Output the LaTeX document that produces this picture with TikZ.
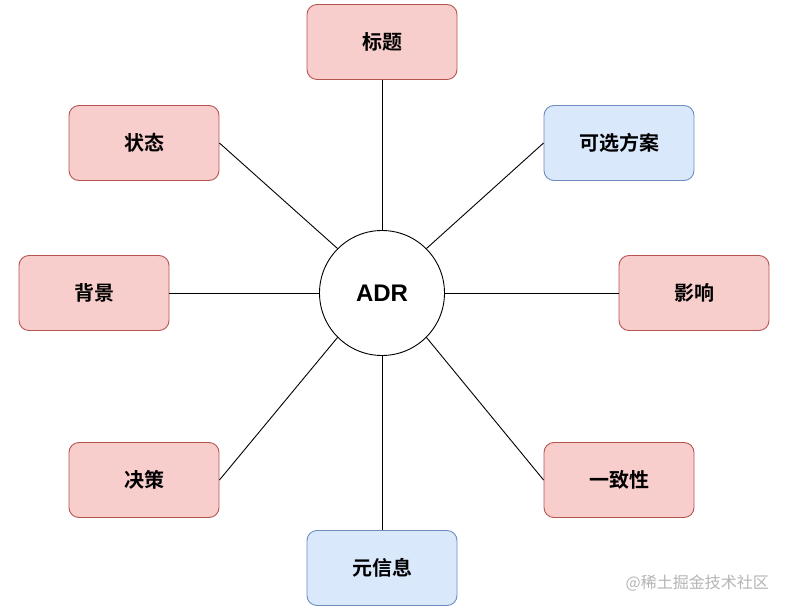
\documentclass[tikz,border=0pt]{standalone}
\usepackage{fontspec}
\setmainfont{Liberation Sans}
\newfontfamily\cjk{Noto Sans CJK SC}
\newfontfamily\cjkb{Noto Sans CJK SC Bold}
\definecolor{pinkfill}{HTML}{F8CECC}
\definecolor{pinkline}{HTML}{B85450}
\definecolor{bluefill}{HTML}{DAE8FC}
\definecolor{blueline}{HTML}{6C8EBF}
\definecolor{wm}{HTML}{B4B4B4}
\begin{document}
\begin{tikzpicture}[x=1pt,y=-1pt,
  box/.style={rectangle,rounded corners=10pt,minimum width=150pt,minimum height=75pt,inner sep=0pt,line width=0.9pt,font=\cjkb\fontsize{20}{20}\selectfont},
  pinkbox/.style={box,draw=pinkline,fill=pinkfill},
  bluebox/.style={box,draw=blueline,fill=bluefill},
  link/.style={draw=black,line width=0.9pt}]
\useasboundingbox (0,0) rectangle (785,610);
\node[circle,draw,line width=0.9pt,fill=white,minimum size=125pt,inner sep=0pt,font=\bfseries\fontsize{24}{24}\selectfont] (c) at (382,293) {ADR};
\node[pinkbox] (t) at (382,42) {标题};
\node[bluebox] (alt) at (619,143) {可选方案};
\node[pinkbox] (imp) at (694,293) {影响};
\node[pinkbox] (con) at (619,480) {一致性};
\node[bluebox] (meta) at (382,568) {元信息};
\node[pinkbox] (dec) at (144,480) {决策};
\node[pinkbox] (bg) at (94,293) {背景};
\node[pinkbox] (st) at (144,143) {状态};
\draw[link] (t.south) -- (c.north);
\draw[link] (alt.west) -- (c.45);
\draw[link] (imp.west) -- (c.east);
\draw[link] (con.west) -- (c.-45);
\draw[link] (meta.north) -- (c.south);
\draw[link] (dec.east) -- (c.-135);
\draw[link] (bg.east) -- (c.west);
\draw[link] (st.east) -- (c.135);
\node[anchor=east,text=wm,inner sep=0pt,font=\cjk\fontsize{16}{16}\selectfont] (wmk) at (769,583) {@稀土掘金技术社区};
\end{tikzpicture}
\end{document}
